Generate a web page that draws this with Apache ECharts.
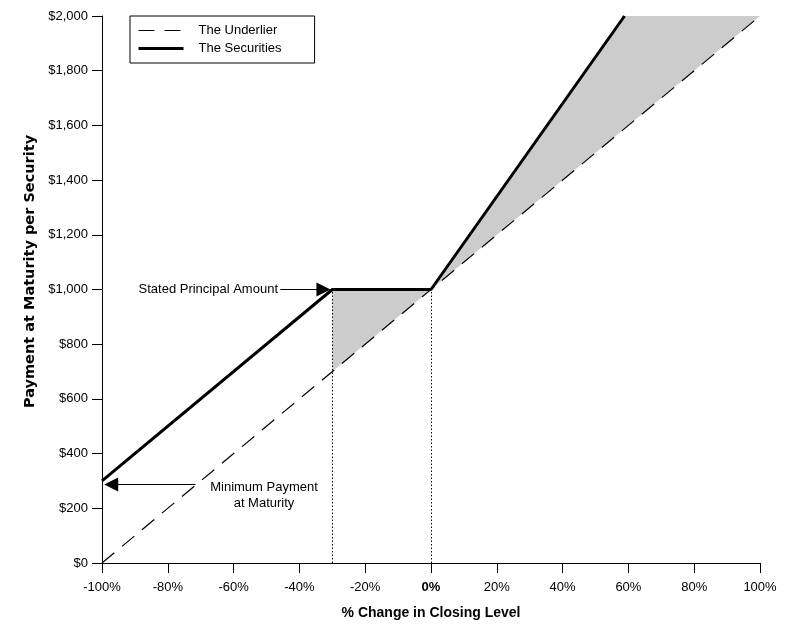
<!DOCTYPE html>
<html>
<head>
<meta charset="utf-8">
<script src="https://cdn.jsdelivr.net/npm/echarts@6/dist/echarts.min.js"></script>
<style>
html,body{margin:0;padding:0;background:#fff;}
#chart{width:790px;height:627px;}
</style>
</head>
<body>
<div id="chart"></div>
<script>
// ---- data ----
const xTicks = [-100, -80, -60, -40, -20, 0, 20, 40, 60, 80, 100];
const yTicks = [0, 200, 400, 600, 800, 1000, 1200, 1400, 1600, 1800, 2000];
const underlierX = [-100, 100];
const underlierY = [0, 2000];
const securitiesX = [-100, -30, 0, 58.82];
const securitiesY = [300, 1000, 1000, 2000];
const shadeX = [-30, -30, 0, 58.82, 100];
const shadeY = [700, 1000, 1000, 2000, 2000];
const dottedX = [-30, 0];
const dottedTop = 1000;
const principalArrow = [[-45.8, 1000], [-32.7, 1000]];
const minPayArrow = [[-71.6, 287], [-97.2, 287]];
const seriesNames = ['The Underlier', 'The Securities'];

const FONT = "'Liberation Sans', Arial, sans-serif";
const chart = echarts.init(document.getElementById('chart'));

const zip = (xs, ys) => xs.map((x, i) => [x, ys[i]]);
const shadePts = zip(shadeX, shadeY);
const underlierDash = [16, 10];

const option = {
  animation: false,
  backgroundColor: '#fff',
  grid: { left: 102, right: 30, top: 16, bottom: 64, containLabel: false },
  legend: {
    orient: 'vertical',
    left: 130, top: 16,
    data: [
      { name: seriesNames[0], lineStyle: { width: 1.2, type: underlierDash, color: '#000' } },
      { name: seriesNames[1], lineStyle: { width: 3, type: 'solid', color: '#000' } }
    ],
    itemWidth: 45, itemHeight: 14, itemGap: 5,
    padding: [8, 33, 8, 7],
    borderColor: '#000', borderWidth: 1,
    backgroundColor: '#fff',
    selectedMode: false,
    itemStyle: { opacity: 0 },
    textStyle: { fontFamily: FONT, fontSize: 13, color: '#000', padding: [0, 0, 0, 10] }
  },
  xAxis: {
    type: 'value', min: -100, max: 100, interval: 20,
    name: '% Change in Closing Level', nameLocation: 'middle', nameGap: 43,
    nameTextStyle: { fontFamily: FONT, fontSize: 14, fontWeight: 'bold', color: '#000' },
    axisLine: { show: true, onZero: false, lineStyle: { color: '#000', width: 1 } },
    axisTick: { show: true, length: 10, lineStyle: { color: '#000' } },
    splitLine: { show: false },
    axisLabel: {
      margin: 18, fontFamily: FONT, fontSize: 13, color: '#000',
      formatter: v => v === 0 ? '{b|0%}' : v + '%',
      rich: { b: { fontWeight: 'bold', fontFamily: FONT, fontSize: 13, color: '#000' } }
    }
  },
  yAxis: {
    type: 'value', min: 0, max: 2000, interval: 200,
    name: 'Payment at Maturity per Security', nameLocation: 'middle', nameGap: 58,
    nameTextStyle: { fontFamily: "'DejaVu Sans', 'Liberation Sans', Arial, sans-serif",
                     fontSize: 14.5, fontWeight: 'bold', color: '#000',
                     padding: [0, 0, 0, 36] },
    axisLine: { show: true, onZero: false, lineStyle: { color: '#000', width: 1 } },
    axisTick: { show: true, length: 10, lineStyle: { color: '#000' } },
    splitLine: { show: false },
    axisLabel: {
      margin: 14, fontFamily: FONT, fontSize: 13, color: '#000',
      formatter: v => '$' + v.toLocaleString('en-US')
    }
  },
  series: [
    {
      type: 'custom', name: 'shade', silent: true, z: 1,
      data: shadePts,
      renderItem: function (params, api) {
        if (params.dataIndex !== 0) return null;
        return {
          type: 'polygon',
          shape: { points: shadePts.map(p => api.coord(p)) },
          style: { fill: '#cccccc', stroke: null }
        };
      }
    },
    {
      type: 'line', name: 'dotted', silent: true, z: 2,
      data: [], symbol: 'none',
      markLine: {
        silent: true, symbol: 'none', label: { show: false },
        lineStyle: { color: '#000', width: 1, type: [1.5, 2] },
        data: dottedX.map(x => [{ coord: [x, 0] }, { coord: [x, dottedTop] }])
      }
    },
    {
      type: 'line', name: seriesNames[0], z: 3,
      data: zip(underlierX, underlierY),
      symbol: 'none', showSymbol: false,
      lineStyle: { color: '#000', width: 1.2, type: underlierDash },
      itemStyle: { color: '#000' }
    },
    {
      type: 'line', name: seriesNames[1], z: 4,
      data: zip(securitiesX, securitiesY),
      symbol: 'none', showSymbol: false,
      lineStyle: { color: '#000', width: 3 },
      itemStyle: { color: '#000' },
      markLine: {
        silent: true,
        symbol: ['none', 'triangle'],
        symbolSize: 14,
        label: { show: false },
        lineStyle: { color: '#000', width: 1, type: 'solid' },
        data: [
          [{ coord: principalArrow[0] }, { coord: principalArrow[1] }],
          [{ coord: minPayArrow[0] }, { coord: minPayArrow[1] }]
        ]
      }
    }
  ],
  graphic: [
    {
      type: 'text', x: 278, y: 289, z: 10,
      style: { text: 'Stated Principal Amount', align: 'right', verticalAlign: 'middle',
               font: "13px " + FONT, fill: '#000' }
    },
    {
      type: 'text', x: 264, y: 495, z: 10,
      style: { text: 'Minimum Payment\nat Maturity', align: 'center', verticalAlign: 'middle',
               font: "13px " + FONT, fill: '#000', lineHeight: 16 }
    }
  ]
};
chart.setOption(option);
</script>
</body>
</html>
